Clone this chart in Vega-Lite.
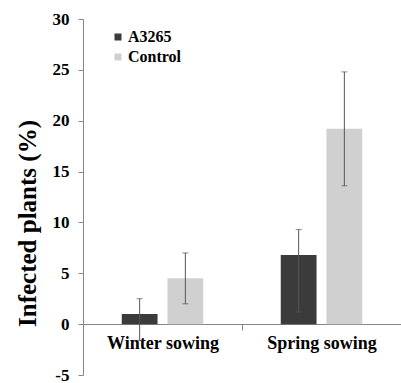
{
  "$schema": "https://vega.github.io/schema/vega-lite/v6.json",
  "autosize": "none",
  "width": 318,
  "height": 356,
  "padding": {"left": 83, "top": 19, "right": 0, "bottom": 8},
  "background": "white",
  "config": {
    "view": {"stroke": null},
    "font": "Times New Roman",
    "axis": {"labelFont": "Times New Roman", "titleFont": "Times New Roman"},
    "legend": {"labelFont": "Times New Roman"}
  },
  "data": {
    "values": [
      {"season": "Winter sowing", "treatment": "A3265", "value": 1.0, "lo": -1.6, "hi": 2.5},
      {"season": "Winter sowing", "treatment": "Control", "value": 4.5, "lo": 2.0, "hi": 7.0},
      {"season": "Spring sowing", "treatment": "A3265", "value": 6.8, "lo": 1.2, "hi": 9.3},
      {"season": "Spring sowing", "treatment": "Control", "value": 19.2, "lo": 13.6, "hi": 24.8}
    ]
  },
  "encoding": {
    "x": {
      "field": "season",
      "type": "nominal",
      "sort": ["Winter sowing", "Spring sowing"],
      "scale": {"paddingInner": 0, "paddingOuter": 0},
      "axis": {
        "title": null,
        "orient": "bottom",
        "offset": -51,
        "labelAngle": 0,
        "labelFont": "Times New Roman",
        "labelFontWeight": "bold",
        "labelFontSize": 18,
        "labelColor": "black",
        "labelPadding": 4,
        "domainColor": "#868686",
        "tickColor": "#868686",
        "tickSize": 6,
        "tickBand": "extent"
      }
    },
    "xOffset": {
      "field": "treatment",
      "type": "nominal",
      "sort": ["A3265", "Control"],
      "scale": {"paddingInner": 0.217, "paddingOuter": 0.848}
    }
  },
  "layer": [
    {
      "mark": {"type": "bar"},
      "encoding": {
        "y": {
          "field": "value",
          "type": "quantitative",
          "scale": {"domain": [-5, 30], "nice": false, "zero": false},
          "axis": {
            "title": "Infected plants (%)",
            "titleFont": "Times New Roman",
            "titleFontWeight": "bold",
            "titleFontSize": 25,
            "titleColor": "black",
            "titleX": -48,
            "titleY": 204,
            "titleAngle": -90,
            "titleAlign": "center",
            "titleBaseline": "alphabetic",
            "values": [-5, 0, 5, 10, 15, 20, 25, 30],
            "labelExpr": "replace(datum.label, '−', '-')",
            "grid": false,
            "labelFont": "Times New Roman",
            "labelFontWeight": "bold",
            "labelFontSize": 17,
            "labelColor": "black",
            "labelPadding": 9,
            "domainColor": "#868686",
            "tickColor": "#868686",
            "tickSize": 5
          }
        },
        "color": {
          "field": "treatment",
          "type": "nominal",
          "sort": ["A3265", "Control"],
          "scale": {"domain": ["A3265", "Control"], "range": ["#3b3b3b", "#d1d0d1"]},
          "legend": {
            "title": null,
            "orient": "none",
            "legendX": 27,
            "legendY": 10,
            "symbolType": "square",
            "symbolSize": 49,
            "symbolStrokeWidth": 0,
            "labelFont": "Times New Roman",
            "labelFontWeight": "bold",
            "labelFontSize": 16,
            "labelColor": "black",
            "labelOffset": 2,
            "rowPadding": 4,
            "padding": 0
          }
        }
      }
    },
    {
      "mark": {"type": "rule", "color": "#555555", "strokeWidth": 1},
      "encoding": {
        "y": {"field": "lo", "type": "quantitative"},
        "y2": {"field": "hi"}
      }
    },
    {
      "mark": {"type": "tick", "color": "#555555", "size": 6, "thickness": 1},
      "encoding": {
        "y": {"field": "hi", "type": "quantitative"}
      }
    },
    {
      "mark": {"type": "tick", "color": "#555555", "size": 6, "thickness": 1},
      "encoding": {
        "y": {"field": "lo", "type": "quantitative"}
      }
    }
  ]
}
